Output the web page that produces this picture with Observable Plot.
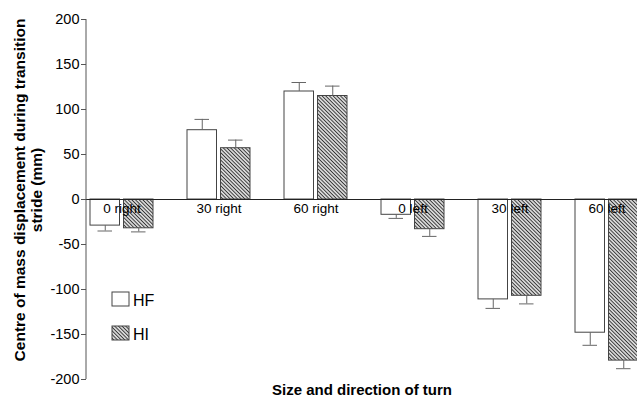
<!DOCTYPE html>
<html><head><meta charset="utf-8">
<script src="https://cdn.jsdelivr.net/npm/d3@7"></script>
<script src="https://cdn.jsdelivr.net/npm/@observablehq/plot@0.6"></script>
<style>body{margin:0;background:#fff} #chart{position:relative;width:637px;height:401px}</style>
</head><body><div id="chart"></div>
<script>
const categories = ["0 right", "30 right", "60 right", "0 left", "30 left", "60 left"];
const seriesNames = ["HF", "HI"];
const hfValues = [-29, 77, 120, -17, -111, -148];
const hfErrors = [6, 12, 10, 4, 10, 14];
const hiValues = [-32, 57, 115, -33, -107, -179];
const hiErrors = [4, 9, 11, 8, 9, 9];
const yTicks = [200, 150, 100, 50, 0, -50, -100, -150, -200];
const yLabelLines = ["Centre of mass displacement during transition", "stride (mm)"];
const xLabel = "Size and direction of turn";

const rows = categories.flatMap((c, i) => [
  {cat: c, series: seriesNames[0], value: hfValues[i], err: hfErrors[i]},
  {cat: c, series: seriesNames[1], value: hiValues[i], err: hiErrors[i]}
]);
rows.forEach(d => d.end = d.value + Math.sign(d.value) * d.err);
const hf = rows.filter(d => d.series === "HF");
const hi = rows.filter(d => d.series === "HI");

const font = "'Liberation Sans', Arial, Helvetica, sans-serif";
const barInset = 33.5, capIn = 7.5, capOut = 41, errShift = 16.75;

const plot = Plot.plot({
  width: 637, height: 401,
  marginLeft: 86, marginRight: 0, marginTop: 19, marginBottom: 22,
  style: {fontFamily: font, background: "#fff", overflow: "hidden"},
  x: {domain: categories, range: [71.1, 657.6], paddingInner: 0.35, paddingOuter: 0.175, axis: null},
  y: {domain: [-200, 200], axis: null},
  marks: [
    Plot.barY(hf, {x: "cat", y: "value", fill: "white", stroke: "#444", strokeWidth: 1, insetRight: barInset}),
    Plot.barY(hi, {x: "cat", y: "value", fill: "url(#hatch)", stroke: "#444", strokeWidth: 1, insetLeft: barInset}),
    Plot.ruleY([0], {stroke: "#222", strokeWidth: 1.2}),
    Plot.ruleX(hf, {x: "cat", y1: "value", y2: "end", dx: -errShift, stroke: "#666"}),
    Plot.ruleX(hi, {x: "cat", y1: "value", y2: "end", dx: errShift, stroke: "#666"}),
    Plot.tickY(hf, {x: "cat", y: "end", insetLeft: capIn, insetRight: capOut, stroke: "#666"}),
    Plot.tickY(hi, {x: "cat", y: "end", insetLeft: capOut, insetRight: capIn, stroke: "#666"}),
    Plot.text(categories, {x: d => d, y: () => 0, dy: 9.4, fontSize: 13.5, fill: "#000", textAnchor: "middle"}),
    Plot.axisY(yTicks, {tickSize: 5, tickPadding: 2, tickFormat: d => String(d), fontSize: 14.5, stroke: "#555", fill: "#000", label: null}),
    Plot.text([xLabel], {frameAnchor: "bottom", dy: 15, fontSize: 15, fontWeight: "bold", fill: "#000"})
  ]
});

const svg = d3.select(plot);
const defs = svg.insert("defs", ":first-child");
const pat = defs.append("pattern").attr("id", "hatch").attr("patternUnits", "userSpaceOnUse")
  .attr("width", 2.6).attr("height", 2.6).attr("patternTransform", "rotate(-45)");
pat.append("rect").attr("width", 2.6).attr("height", 2.6).attr("fill", "#fff");
pat.append("line").attr("x1", 1.3).attr("x2", 1.3).attr("y1", 0).attr("y2", 2.6)
  .attr("stroke", "#333").attr("stroke-width", 1.2);

const y = plot.scale("y");
svg.append("line").attr("x1", 86).attr("x2", 86)
  .attr("y1", y.apply(200)).attr("y2", y.apply(-200)).attr("stroke", "#555").attr("stroke-width", 1);

const yl = svg.append("g").attr("font-family", font).attr("font-weight", "bold").attr("font-size", 15.5).attr("text-anchor", "middle").attr("fill", "#000");
yl.append("text").attr("transform", "translate(24.5,190) rotate(-90)").text(yLabelLines[0]);
yl.append("text").attr("transform", "translate(42,190) rotate(-90)").text(yLabelLines[1]);

const lg = svg.append("g").attr("font-family", font).attr("font-size", 16).attr("fill", "#000").attr("text-anchor", "start");
lg.append("rect").attr("x", 112).attr("y", 292).attr("width", 17).attr("height", 14).attr("fill", "#fff").attr("stroke", "#444");
lg.append("text").attr("x", 133).attr("y", 305.5).attr("text-anchor", "start").text(seriesNames[0]);
lg.append("rect").attr("x", 112).attr("y", 326).attr("width", 17).attr("height", 14).attr("fill", "url(#hatch)").attr("stroke", "#444");
lg.append("text").attr("x", 133).attr("y", 339.5).attr("text-anchor", "start").text(seriesNames[1]);

document.getElementById("chart").appendChild(plot);
</script></body></html>
